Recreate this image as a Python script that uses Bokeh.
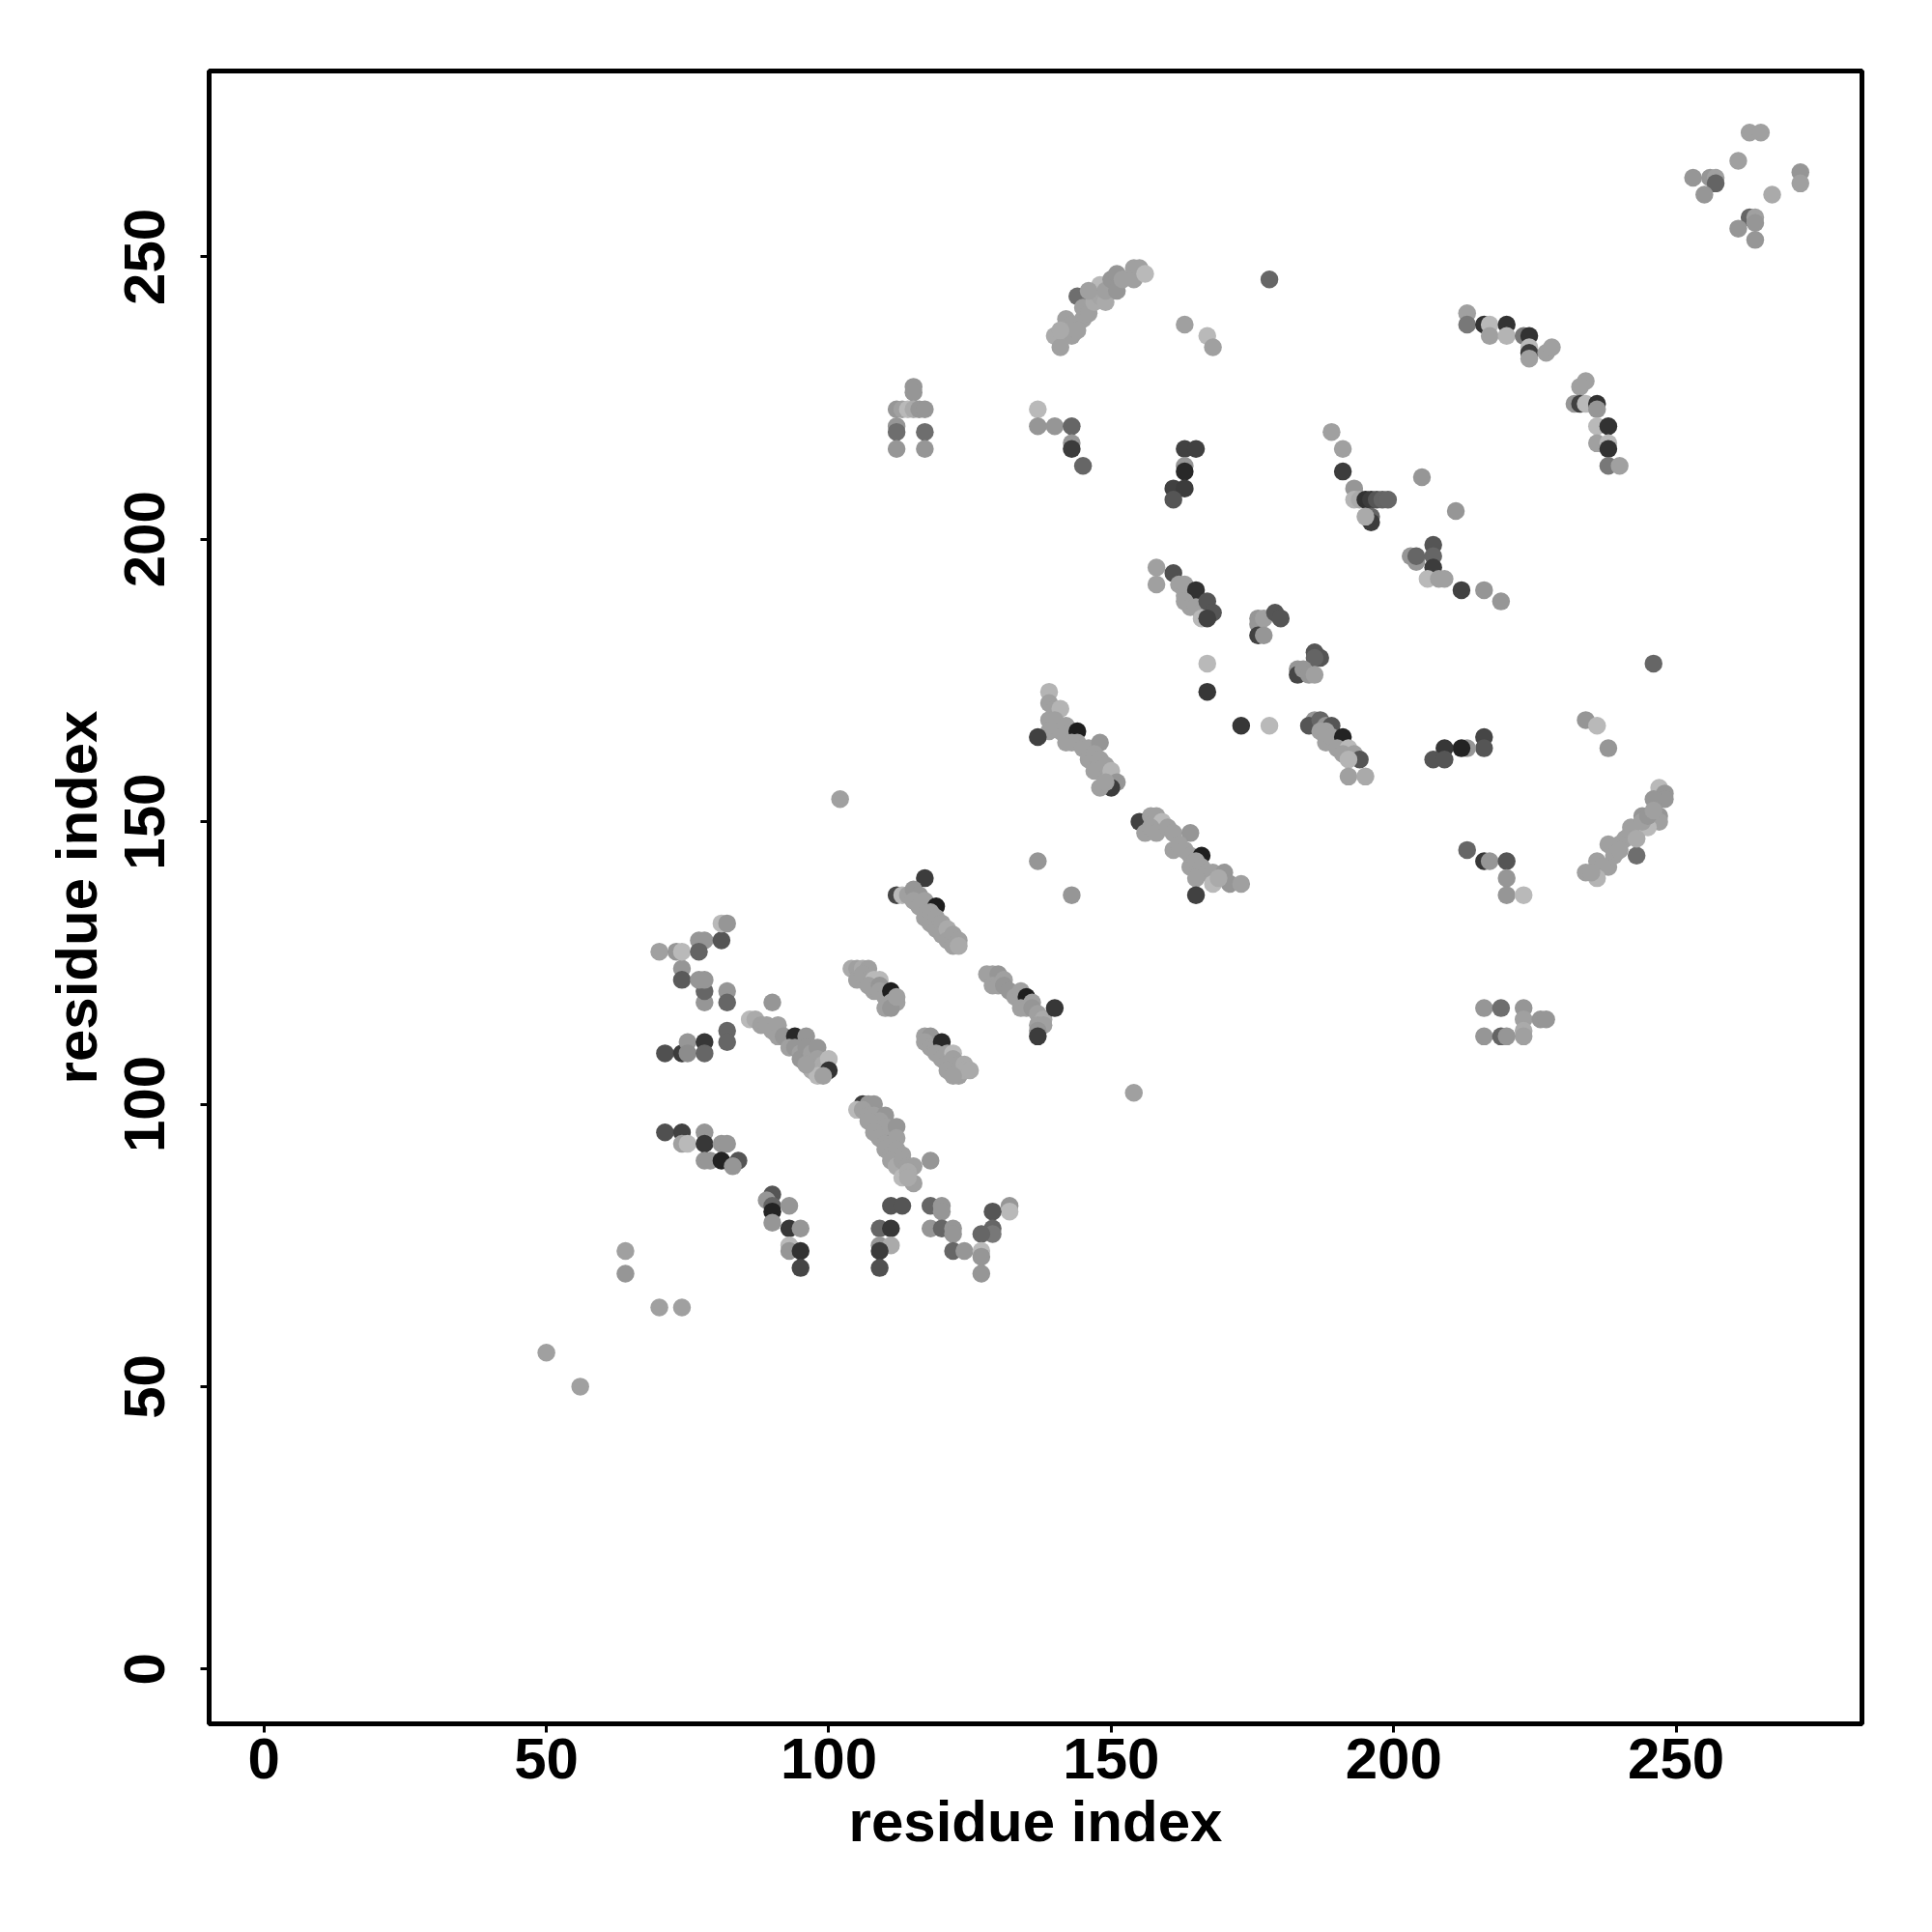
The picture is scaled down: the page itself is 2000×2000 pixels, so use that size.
from bokeh.plotting import figure
from bokeh.models import Range1d, FixedTicker, ColumnDataSource
from bokeh.embed import file_html
from bokeh.resources import INLINE

# contact points: (residue i, residue j, gray level)
pts = [
    (50, 56, 160), (56, 50, 160), (64, 74, 160), (64, 70, 150), (70, 64, 160), (74, 64, 160),
    (71, 95, 80), (74, 95, 65), (74, 93, 160), (75, 93, 185), (78, 95, 150), (78, 93, 55),
    (81, 93, 150), (82, 93, 150), (78, 90, 150), (79, 90, 150), (81, 90, 35), (84, 90, 85), (83, 89, 150),
    (71, 109, 80), (74, 109, 60), (75, 111, 150), (75, 109, 140), (78, 111, 55), (78, 109, 102),
    (82, 113, 102), (82, 111, 102), (78, 118, 150), (78, 120, 102), (82, 120, 150), (82, 118, 102),
    (74, 124, 150), (74, 122, 90), (77, 122, 150), (78, 122, 150),
    (70, 127, 160), (73, 127, 150), (74, 127, 185), (77, 129, 150), (78, 129, 150), (77, 127, 100),
    (81, 129, 85), (81, 132, 185), (82, 132, 150),
    (86, 115, 185), (87, 115, 170), (88, 114, 160), (89, 114, 160), (90, 113, 160), (90, 118, 150),
    (91, 114, 160), (91, 112, 160), (92, 112, 150), (94, 112, 40), (96, 112, 150), (93, 110, 160),
    (94, 110, 150), (95, 109, 160), (95, 108, 150), (96, 110, 150), (97, 109, 160), (98, 110, 150),
    (98, 108, 160), (99, 107, 170), (100, 108, 185), (100, 106, 50), (97, 106, 170), (98, 105, 185),
    (96, 107, 160), (99, 105, 160),
    (90, 84, 85), (89, 83, 150), (90, 82, 100), (90, 81, 35), (93, 82, 150), (90, 79, 150), (93, 78, 55),
    (95, 78, 150), (93, 75, 185), (93, 74, 150), (95, 74, 50), (95, 71, 70),
    (104, 124, 170), (105, 124, 160), (106, 124, 170), (107, 124, 160), (105, 122, 160), (106, 123, 160),
    (107, 122, 160), (108, 122, 185), (109, 122, 185), (107, 121, 160), (108, 120, 160), (109, 121, 150),
    (109, 120, 160), (110, 119, 160), (111, 120, 30), (111, 118, 160), (112, 118, 160), (110, 117, 160),
    (111, 117, 150), (112, 119, 160),
    (117, 140, 60), (112, 137, 70), (113, 137, 185), (114, 137, 160), (115, 138, 150), (116, 137, 150),
    (115, 136, 160), (116, 135, 160), (117, 136, 160), (119, 135, 30), (117, 133, 160), (118, 134, 160),
    (118, 132, 160), (119, 133, 160), (119, 131, 160), (120, 132, 160), (120, 130, 160), (121, 131, 170),
    (121, 129, 160), (122, 130, 160), (122, 128, 160), (123, 129, 160), (123, 128, 170),
    (128, 123, 160), (129, 123, 160), (130, 123, 150), (129, 121, 160), (130, 121, 160), (131, 122, 160),
    (131, 121, 150), (132, 120, 150), (133, 119, 160), (134, 120, 160), (135, 119, 30), (134, 117, 160),
    (135, 117, 160), (136, 118, 160), (136, 117, 150), (137, 116, 160), (138, 115, 170), (137, 114, 160),
    (138, 114, 160), (137, 113, 150), (137, 112, 60), (140, 117, 55),
    (117, 112, 160), (118, 112, 150), (117, 111, 160), (118, 110, 160), (119, 110, 160), (120, 111, 40),
    (119, 109, 160), (120, 108, 160), (121, 109, 160), (122, 109, 185), (121, 107, 160), (122, 108, 160),
    (123, 107, 160), (124, 107, 170), (121, 106, 160), (123, 105, 160), (124, 106, 170), (125, 106, 170),
    (122, 105, 160),
    (106, 100, 60), (107, 100, 150), (108, 100, 150), (105, 99, 185), (106, 99, 160), (107, 98, 160),
    (108, 98, 160), (110, 98, 150), (109, 97, 160), (107, 97, 160), (110, 96, 160), (112, 96, 150),
    (108, 95, 160), (109, 94, 160), (111, 93, 55), (110, 93, 160), (112, 94, 160), (110, 92, 160),
    (111, 91, 160), (112, 92, 160), (113, 91, 160), (111, 90, 160), (112, 89, 170), (113, 90, 160),
    (114, 89, 160), (115, 89, 160), (113, 87, 185), (114, 88, 170), (115, 86, 160), (114, 87, 170),
    (118, 90, 150),
    (111, 82, 85), (113, 82, 85), (109, 78, 102), (111, 78, 55), (109, 75, 150), (111, 75, 170),
    (109, 74, 60), (109, 71, 80),
    (118, 82, 102), (120, 82, 150), (120, 81, 150), (118, 78, 150), (120, 78, 102), (122, 78, 150),
    (122, 77, 150), (122, 74, 102), (124, 74, 150),
    (132, 82, 150), (132, 81, 185), (129, 81, 85), (129, 78, 102), (129, 77, 120), (127, 77, 102),
    (127, 74, 185), (127, 73, 150), (127, 70, 150),
    (102, 154, 160), (154, 102, 160),
    (139, 173, 180), (139, 171, 160), (140, 170, 160), (141, 170, 180), (139, 168, 160), (140, 168, 160),
    (139, 166, 160), (141, 166, 160), (137, 165, 65), (142, 167, 160), (143, 166, 160), (144, 166, 30),
    (142, 164, 160), (143, 164, 160), (144, 164, 160), (145, 163, 160), (146, 163, 160), (148, 164, 150),
    (146, 161, 160), (147, 162, 160), (148, 161, 160), (147, 159, 160), (149, 160, 160), (150, 159, 180),
    (151, 157, 150), (150, 156, 60), (148, 156, 160), (149, 157, 160),
    (155, 150, 65), (157, 151, 160), (158, 151, 160), (159, 150, 185), (156, 148, 160), (157, 149, 160),
    (158, 148, 160), (160, 149, 160), (161, 148, 160), (164, 148, 150), (161, 145, 160), (162, 146, 160),
    (163, 145, 160), (164, 144, 160), (166, 144, 30), (164, 142, 160), (165, 143, 160), (166, 142, 160),
    (167, 141, 160), (165, 140, 160), (168, 141, 160), (170, 141, 150), (171, 139, 150), (173, 139, 160),
    (168, 139, 185), (169, 140, 170), (165, 137, 65),
    (137, 143, 150), (143, 137, 150),
    (158, 195, 160), (158, 192, 160), (161, 194, 80), (162, 192, 160), (163, 192, 160), (163, 190, 160),
    (164, 190, 160), (165, 191, 50), (163, 189, 160), (164, 188, 160), (165, 188, 160), (166, 187, 160),
    (167, 189, 85), (168, 187, 85), (166, 186, 185), (167, 186, 65),
    (176, 186, 150), (176, 185, 150), (177, 186, 160), (179, 187, 85), (180, 186, 85), (176, 183, 65),
    (177, 183, 150),
    (186, 180, 85), (187, 179, 85), (186, 179, 100), (183, 177, 150), (183, 176, 70), (184, 177, 150),
    (185, 176, 150), (186, 176, 160),
    (167, 178, 185), (167, 173, 55), (173, 167, 55), (178, 167, 185),
    (186, 168, 150), (185, 167, 85), (187, 168, 102), (188, 167, 150), (189, 167, 85), (187, 166, 160),
    (188, 166, 160), (188, 164, 160), (189, 165, 160), (190, 164, 160), (191, 165, 35), (190, 163, 160),
    (192, 163, 185), (191, 162, 160), (193, 162, 160), (194, 161, 85), (192, 161, 180), (192, 158, 160),
    (195, 158, 170),
    (191, 212, 60), (193, 209, 150), (193, 207, 180), (194, 207, 170), (195, 207, 50), (196, 207, 60),
    (197, 207, 85), (198, 207, 100), (199, 207, 102), (196, 204, 102), (196, 203, 60), (195, 204, 170),
    (205, 211, 150), (211, 205, 150), (207, 199, 85),
    (203, 197, 150), (204, 196, 150), (204, 197, 102), (207, 197, 102), (207, 195, 60), (206, 193, 185),
    (208, 193, 160), (209, 193, 160), (212, 191, 65), (216, 191, 150), (219, 189, 150),
    (246, 178, 102), (234, 168, 150), (236, 167, 185), (238, 163, 150),
    (216, 165, 70), (216, 163, 85), (213, 163, 150), (212, 163, 35), (209, 163, 55), (207, 161, 85),
    (209, 161, 85),
    (247, 156, 185), (248, 155, 150), (248, 154, 150), (246, 154, 150), (244, 151, 150), (247, 151, 150),
    (247, 150, 160), (245, 149, 185), (242, 149, 160), (242, 148, 160), (243, 144, 110), (241, 147, 160),
    (240, 146, 160), (238, 146, 160), (239, 144, 160), (236, 143, 160), (238, 142, 160), (237, 142, 160),
    (234, 141, 160), (236, 140, 180), (235, 141, 160), (244, 150, 160), (245, 151, 150), (246, 152, 160),
    (243, 147, 170), (240, 145, 160),
    (213, 145, 102), (216, 143, 55), (217, 143, 150), (220, 143, 85), (220, 140, 150), (220, 137, 150),
    (223, 137, 185),
    (216, 117, 150), (219, 117, 110), (223, 117, 150), (223, 115, 160), (223, 113, 170), (223, 112, 160),
    (226, 115, 150), (227, 115, 150), (216, 112, 150), (219, 112, 100), (220, 112, 150),
    (115, 227, 150), (115, 226, 150), (112, 223, 150), (113, 223, 160), (114, 223, 185), (115, 223, 170),
    (116, 223, 150), (117, 223, 150), (112, 220, 150), (112, 219, 110), (117, 219, 110), (112, 216, 150),
    (117, 216, 150),
    (140, 236, 170), (141, 234, 160), (142, 239, 160), (143, 236, 160), (144, 243, 110), (145, 239, 160),
    (145, 241, 160), (146, 240, 160), (147, 242, 170), (148, 245, 185), (148, 243, 165), (149, 242, 170),
    (149, 244, 160), (150, 246, 150), (151, 247, 150), (151, 244, 150), (152, 246, 160), (154, 248, 160),
    (154, 246, 160), (155, 248, 160), (156, 247, 185), (143, 238, 160), (144, 237, 160), (141, 237, 170),
    (146, 244, 160),
    (178, 246, 102), (163, 238, 160), (167, 236, 185), (168, 234, 160),
    (137, 223, 185), (137, 220, 150), (140, 220, 150), (143, 220, 102), (143, 217, 150), (143, 216, 60),
    (145, 213, 102),
    (163, 216, 65), (165, 216, 65), (163, 213, 150), (163, 212, 40), (161, 209, 65), (163, 209, 60),
    (161, 207, 85),
    (189, 219, 160), (191, 216, 160),
    (263, 272, 160), (265, 272, 160), (261, 267, 160), (253, 264, 150), (256, 264, 150), (257, 264, 160),
    (257, 263, 100), (255, 261, 150), (267, 261, 170), (272, 265, 150), (272, 263, 160), (263, 257, 102),
    (264, 257, 160), (264, 256, 150), (261, 255, 150), (264, 253, 150),
    (213, 240, 160), (213, 238, 120), (216, 238, 50), (217, 238, 185), (217, 236, 160), (220, 238, 50),
    (220, 236, 180), (223, 236, 120), (224, 236, 50), (224, 234, 185), (224, 233, 60), (224, 232, 160),
    (227, 233, 160), (228, 234, 160),
    (234, 228, 160), (233, 227, 160), (232, 224, 150), (233, 224, 65), (234, 224, 185), (236, 224, 50),
    (236, 223, 150), (236, 220, 185), (238, 220, 50), (236, 217, 160), (238, 217, 185), (238, 216, 50),
    (238, 213, 120), (240, 213, 160),
]

res_i = [p_[0] for p_ in pts]
res_j = [p_[1] for p_ in pts]
gray = [p_[2] for p_ in pts]
colors = ["#%02x%02x%02x" % (g, g, g) for g in gray]

tick_values = [0, 50, 100, 150, 200, 250]

src = ColumnDataSource(dict(x=res_i, y=res_j, c=colors))

p = figure(frame_width=1711, frame_height=1711,
           min_border_left=216, min_border_right=52, min_border_top=73, min_border_bottom=190,
           x_range=Range1d(-9.7, 282.9), y_range=Range1d(-9.7, 282.9),
           output_backend="svg", toolbar_location=None,
           background_fill_color="white", border_fill_color="white")

p.scatter("x", "y", source=src, size=18.5, fill_color="c", line_color=None)

p.grid.visible = False
p.outline_line_color = "black"
p.outline_line_width = 5

for ax in (p.xaxis[0], p.yaxis[0]):
    ax.ticker = FixedTicker(ticks=tick_values)
    ax.axis_line_color = None
    ax.major_tick_in = 0
    ax.major_tick_out = 9
    ax.major_tick_line_width = 3
    ax.major_tick_line_color = "black"
    ax.minor_tick_line_color = None
    ax.major_label_text_font = "Liberation Sans"
    ax.major_label_text_font_style = "bold"
    ax.major_label_text_font_size = "60px"
    ax.major_label_text_color = "black"
    ax.axis_label = "residue index"
    ax.axis_label_text_font = "Liberation Sans"
    ax.axis_label_text_font_style = "bold"
    ax.axis_label_text_font_size = "60px"
    ax.axis_label_text_color = "black"

p.xaxis.major_label_standoff = 6
p.xaxis.axis_label_standoff = 8
p.yaxis.major_label_orientation = "vertical"
p.yaxis.major_label_standoff = 37
p.yaxis.axis_label_standoff = 14

open("out.html", "w").write(file_html(p, INLINE))
